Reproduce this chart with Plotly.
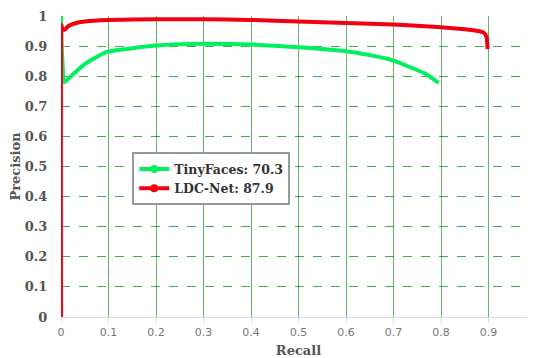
import plotly.graph_objects as go

tiny_recall = [0.0, 0.0, 0.003, 0.007, 0.021, 0.05, 0.095, 0.15, 0.2, 0.25, 0.3, 0.4, 0.5, 0.6, 0.65, 0.7, 0.735, 0.77, 0.795]
tiny_prec = [1.0, 0.98, 0.85, 0.78, 0.80, 0.84, 0.88, 0.893, 0.902, 0.906, 0.908, 0.905, 0.896, 0.883, 0.870, 0.852, 0.83, 0.806, 0.778]

ldc_recall = [0.0, 0.001, 0.003, 0.008, 0.015, 0.03, 0.05, 0.1, 0.2, 0.3, 0.4, 0.5, 0.6, 0.7, 0.8, 0.85, 0.875, 0.89, 0.896, 0.898]
ldc_prec = [0.0, 0.97, 0.955, 0.955, 0.966, 0.976, 0.982, 0.987, 0.989, 0.989, 0.987, 0.982, 0.977, 0.972, 0.963, 0.956, 0.951, 0.945, 0.93, 0.89]

x_ticks = [0, 0.1, 0.2, 0.3, 0.4, 0.5, 0.6, 0.7, 0.8, 0.9, 1]
x_labels = ["0", "0.1", "0.2", "0.3", "0.4", "0.5", "0.6", "0.7", "0.8", "0.9", "1"]
y_ticks = [0, 0.1, 0.2, 0.3, 0.4, 0.5, 0.6, 0.7, 0.8, 0.9, 1]
y_labels = ["0", "0.1", "0.2", "0.3", "0.4", "0.5", "0.6", "0.7", "0.8", "0.9", "1"]

series_names = ["TinyFaces: 70.3", "LDC-Net: 87.9"]
series_colors = ["#00f060", "#f00010"]

serif = "DejaVu Serif"

fig = go.Figure()
fig.add_trace(go.Scatter(x=tiny_recall, y=tiny_prec, mode="lines", showlegend=False,
                         line=dict(color=series_colors[0], width=4, shape="spline", smoothing=0.5)))
fig.add_trace(go.Scatter(x=ldc_recall, y=ldc_prec, mode="lines", showlegend=False,
                         line=dict(color=series_colors[1], width=4, shape="spline", smoothing=0.4)))
for name, color in zip(series_names, series_colors):
    fig.add_trace(go.Scatter(x=[None], y=[None], mode="lines+markers", name="<b>%s</b>" % name,
                             line=dict(color=color, width=4),
                             marker=dict(color=color, size=8, symbol="circle")))

# page body adds an 8px offset; the figure runs slightly past the window's right edge
fig.update_layout(
    width=535, height=350,
    margin=dict(l=53, r=7, t=8, b=41),
    paper_bgcolor="white", plot_bgcolor="white",
    showlegend=True,
    legend=dict(x=0.15, y=0.547, xanchor="left", yanchor="top",
                bgcolor="white", bordercolor="#999999", borderwidth=2,
                font=dict(family=serif, size=12.5, color="#333333"),
                itemwidth=30, tracegroupgap=0),
    xaxis=dict(range=[0, 1], tickvals=x_ticks, ticktext=x_labels, automargin=False,
               ticklabeloverflow="allow",
               showgrid=True, gridcolor="rgba(0,128,0,0.6)", gridwidth=1,
               zeroline=False, showline=True, linecolor="#d5dde8", linewidth=1,
               ticks="outside", ticklen=5, tickcolor="#d5dde8",
               tickfont=dict(family="DejaVu Sans", size=11, color="#777777"),
               title=dict(text="<b>Recall</b>", font=dict(family=serif, size=13, color="#555555"), standoff=12)),
    yaxis=dict(range=[0, 1], tickvals=y_ticks, ticktext=["<b>%s</b>" % t for t in y_labels], automargin=False,
               showgrid=True, gridcolor="rgba(0,128,0,0.7)", gridwidth=1, griddash="dash",
               zeroline=False, showline=False,
               ticks="outside", ticklen=10, tickcolor="rgba(0,0,0,0)",
               tickfont=dict(family=serif, size=13, color="#555555"),
               title=dict(text="<b>Precision</b>", font=dict(family=serif, size=13, color="#555555"), standoff=8)),
)
fig.update_xaxes(layer="below traces")
fig.update_yaxes(layer="below traces")

fig.write_html("out.html")
